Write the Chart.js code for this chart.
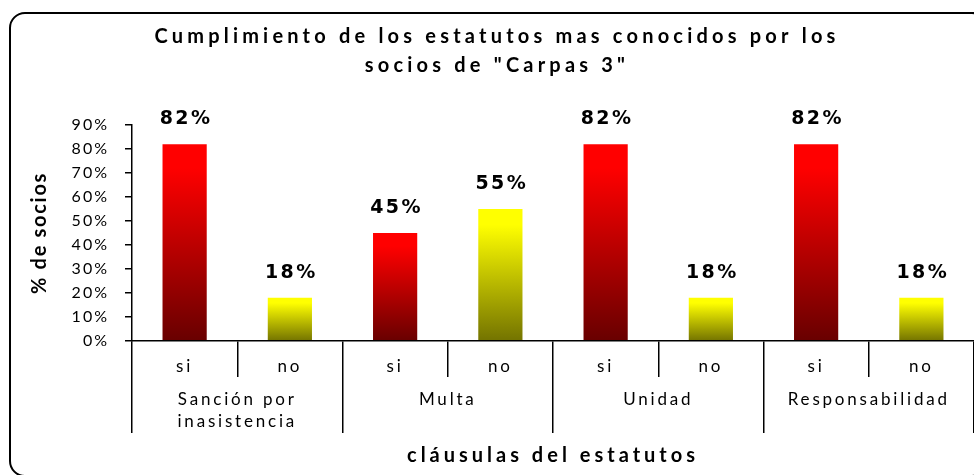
<!DOCTYPE html>
<html>
<head>
<meta charset="utf-8">
<script src="https://cdn.jsdelivr.net/npm/chart.js@4.4.1/dist/chart.umd.min.js"></script>
<style>
html,body{margin:0;padding:0;background:#fff;overflow:hidden}
#wrap{width:974px;height:475px;position:relative}
</style>
</head>
<body>
<div id="wrap"><canvas id="c"></canvas></div>
<script>
// ---- data ----
const titleLines = ['Cumplimiento de los estatutos mas conocidos por los', 'socios de "Carpas 3"'];
const groups = [['Sanción por', 'inasistencia'], 'Multa', 'Unidad', 'Responsabilidad'];
const answers = ['si', 'no'];
const siPct = [82, 45, 82, 82];
const noPct = [18, 55, 18, 18];
const yTickValues = [0, 10, 20, 30, 40, 50, 60, 70, 80, 90];
const yTitle = '% de socios';
const xTitle = 'cláusulas del estatutos';

// build interleaved table
const labels = [];
const values = [];
const kinds = [];
groups.forEach((g, i) => {
  labels.push(answers[0]); values.push(siPct[i]); kinds.push('si');
  labels.push(answers[1]); values.push(noPct[i]); kinds.push('no');
});

// ---- scales with letter spacing ----
class SpacedCategory extends Chart.CategoryScale {
  draw(area) {
    const c = this.ctx; const prev = c.letterSpacing;
    c.letterSpacing = this.options.spacing || '0px';
    super.draw(area);
    c.letterSpacing = prev;
  }
  drawTitle() {
    const c = this.ctx; const prev = c.letterSpacing;
    c.letterSpacing = this.options.titleSpacing || c.letterSpacing;
    super.drawTitle();
    c.letterSpacing = prev;
  }
}
SpacedCategory.id = 'spacedCategory';
SpacedCategory.defaults = Chart.CategoryScale.defaults;

class SpacedLinear extends Chart.LinearScale {
  draw(area) {
    const c = this.ctx; const prev = c.letterSpacing;
    c.letterSpacing = this.options.spacing || '0px';
    super.draw(area);
    c.letterSpacing = prev;
  }
  drawTitle() {
    const c = this.ctx; const prev = c.letterSpacing;
    c.letterSpacing = this.options.titleSpacing || c.letterSpacing;
    super.drawTitle();
    c.letterSpacing = prev;
  }
}
SpacedLinear.id = 'spacedLinear';
SpacedLinear.defaults = Chart.LinearScale.defaults;
Chart.register(SpacedCategory, SpacedLinear);

const gradColors = {
  si: ['#ff0000', '#680000'],
  no: ['#ffff00', '#737300']
};

function barFill(ctx) {
  const chart = ctx.chart;
  const kind = kinds[ctx.dataIndex] || 'si';
  const cols = gradColors[kind];
  const y = chart.scales && chart.scales.y;
  if (!chart.chartArea || !y || ctx.type !== 'data') return cols[0];
  const top = y.getPixelForValue(ctx.raw);
  const bot = y.getPixelForValue(0);
  if (!isFinite(top) || !isFinite(bot) || top === bot) return cols[0];
  const g = chart.ctx.createLinearGradient(0, top, 0, bot);
  g.addColorStop(0, cols[0]);
  g.addColorStop(0.12, cols[0]);
  g.addColorStop(1, cols[1]);
  return g;
}

const framePlugin = {
  id: 'frame',
  beforeDraw(chart) {
    const c = chart.ctx;
    c.save();
    c.strokeStyle = '#000';
    c.lineWidth = 2;
    c.beginPath();
    c.roundRect(10, 13, 977, 463, 15);
    c.stroke();
    c.restore();
    c.letterSpacing = '4.2px';
  },
  beforeDatasetsDraw(chart) {
    chart.ctx.letterSpacing = '0px';
  },
  afterDatasetsDraw(chart) {
    const c = chart.ctx;
    const meta = chart.getDatasetMeta(0);
    c.save();
    c.letterSpacing = '2.5px';
    c.font = 'bold 19px "DejaVu Sans"';
    c.fillStyle = '#000';
    c.textAlign = 'center';
    c.textBaseline = 'middle';
    meta.data.forEach((bar, i) => {
      c.fillText(values[i] + '%', bar.x + 1.5, bar.y - 25);
    });
    c.restore();
    c.letterSpacing = '0px';
  }
};

new Chart(document.getElementById('c'), {
  type: 'bar',
  data: {
    labels: labels,
    datasets: [{
      label: '% de socios',
      data: values,
      backgroundColor: barFill,
      borderWidth: 0,
      categoryPercentage: 1,
      barPercentage: 0.42
    }]
  },
  options: {
    responsive: true,
    maintainAspectRatio: false,
    animation: false,
    events: [],
    layout: { padding: { left: 20, right: 0, top: 0, bottom: 0 } },
    plugins: {
      legend: { display: false },
      tooltip: { enabled: false },
      title: {
        display: true,
        text: titleLines,
        color: '#000',
        font: { family: 'Lato', size: 20, weight: 'bold', lineHeight: 29 / 20 },
        padding: { top: 22, bottom: 45 }
      }
    },
    scales: {
      x: {
        type: 'spacedCategory',
        position: 'bottom',
        weight: 0,
        offset: true,
        spacing: '2.8px',
        ticks: { z: 1, font: { family: 'Lato', size: 17 }, color: '#000', padding: -21, autoSkip: false, maxRotation: 0 },
        grid: { offset: true, drawOnChartArea: false, tickLength: 36, color: '#000', lineWidth: 1.5 },
        border: { display: true, color: '#000', width: 1.5 },
        afterFit: s => { s.height = 36; }
      },
      x2: {
        type: 'spacedCategory',
        labels: groups,
        position: 'bottom',
        weight: 1,
        offset: true,
        spacing: '2.8px',
        titleSpacing: '4px',
        ticks: { z: 1, font: { family: 'Lato', size: 17, lineHeight: 22 / 17 }, color: '#000', padding: -44, autoSkip: false, maxRotation: 0 },
        grid: { offset: true, drawOnChartArea: false, tickLength: 56, color: '#000', lineWidth: 1.5 },
        border: { display: false },
        title: { display: true, text: xTitle, color: '#000', font: { family: 'Lato', size: 20, weight: 'bold' }, padding: { top: 0, bottom: 7 } },
        afterFit: s => { s.height = 98; }
      },
      y: {
        type: 'spacedLinear',
        position: 'left',
        min: 0,
        max: 90,
        spacing: '2px',
        titleSpacing: '1.7px',
        afterBuildTicks: s => { s.ticks = yTickValues.map(v => ({ value: v })); },
        ticks: { z: 1, callback: v => v + '%', font: { family: 'Lato', size: 16 }, color: '#000', padding: 16, autoSkip: false },
        grid: { drawOnChartArea: false, tickLength: 7, color: '#000', lineWidth: 1.5 },
        border: { display: true, color: '#000', width: 1.5 },
        title: { display: true, text: yTitle, color: '#000', font: { family: 'Lato', size: 20, weight: 'bold' }, padding: { top: 8, bottom: 0 } },
        afterFit: s => { s.width = 112; }
      }
    }
  },
  plugins: [framePlugin]
});
</script>
</body>
</html>
